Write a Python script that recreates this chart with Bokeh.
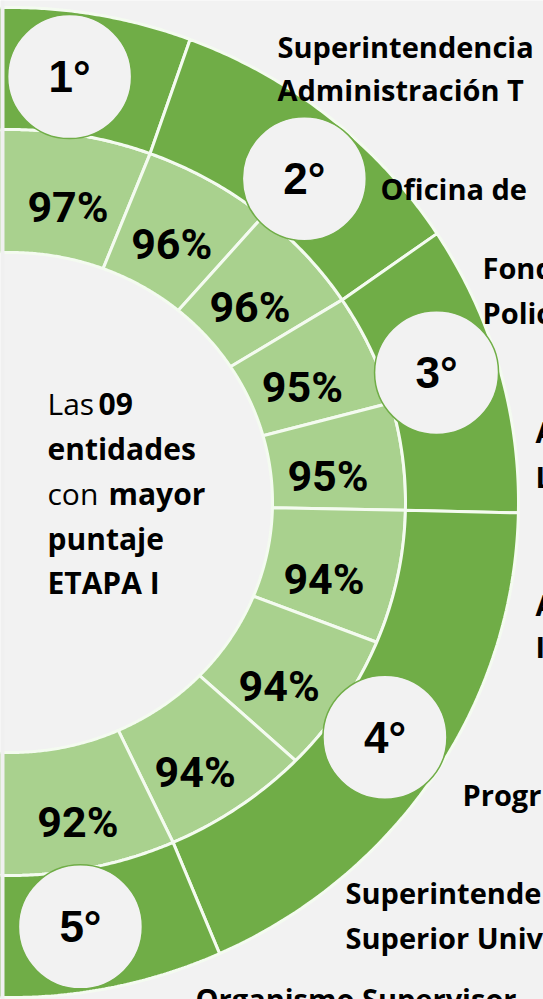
import numpy as np
from bokeh.plotting import figure
from bokeh.models import Range1d
from bokeh.core.properties import value
from bokeh.embed import file_html
from bokeh.resources import INLINE

# ---------------- data ----------------
scores = [97, 96, 96, 95, 95, 94, 94, 94, 92]
rank_marks = ["1°", "2°", "3°", "4°", "5°"]

# centre caption: (text, bold?)
caption = [
    [("Las ", False), ("09", True)],
    [("entidades", True)],
    [("con ", False), ("mayor", True)],
    [("puntaje", True)],
    [("ETAPA I", True)],
]

# entity names as visible in the picture (cut by the right edge)
name_text = ["Superintendencia", "Administración T", "Oficina de", "Fond", "Polic",
             "A", "L", "A", "I", "Progr", "Superintende", "Superior Univ",
             "Organismo Supervisor"]

# ---------------- layout (pixel space, y downwards) ----------------
W, H = 543, 999
CX, CY = 10, 502
R_IN = (262, 250)
R_MID = (395, 373)
R_OUT = (508, 495)
EDGES = [90, 69.3, 50.2, 32.9, 15.5, -1.2, -22.0, -43.8, -65.7, -90]
BADGE_DEG = [82.4, 48.9, 17.6, -33.1, -81.0]
LABEL_R, LABEL_DY = (320, 314), 13
name_x = [277, 277, 380, 482, 482, 535, 535, 535, 535, 462, 345, 345, 195]
name_base = [57, 100, 199, 278, 323, 442, 487, 615, 657, 805, 903, 948, 1009]
cap_x0, cap_x_bold2 = 47, {0: 98, 2: 108}
cap_base = [415, 460, 505, 550, 594]

# the svg text is placed around its em-box centre: shift = (ascent - descent) / 2
K_OPEN_SANS = 0.388

GREEN = "#70AD47"
LIGHT = "#A9D18E"
BG = "#F2F2F2"
GAP = "#F4FBF0"


def ext(a):
    return 94 if a >= 90 else (-94 if a <= -90 else a)


def ring_patch(a0, a1, r0, r1, n=80):
    t = np.radians(np.linspace(ext(a0), ext(a1), n))
    xo = CX + r1[0] * np.cos(t)
    yo = CY - r1[1] * np.sin(t)
    xi = CX + r0[0] * np.cos(t[::-1])
    yi = CY - r0[1] * np.sin(t[::-1])
    return list(np.concatenate([xo, xi])), list(np.concatenate([yo, yi]))


def pt(a, rx, ry):
    t = np.radians(a)
    return CX + rx * np.cos(t), CY - ry * np.sin(t)


p = figure(width=W, height=H, x_range=Range1d(0, W), y_range=Range1d(H, 0),
           output_backend="svg", toolbar_location=None, min_border=0,
           x_axis_location=None, y_axis_location=None)
p.grid.visible = False
p.outline_line_color = None
p.background_fill_color = BG
p.border_fill_color = BG

# inner ring: one wedge per entity
ixs, iys = [], []
for i in range(len(scores)):
    xs, ys = ring_patch(EDGES[i], EDGES[i + 1], R_IN, R_MID)
    ixs.append(xs)
    iys.append(ys)
p.patches(ixs, iys, fill_color=LIGHT, line_color=GAP, line_width=3)

# outer ring: one wedge per rank (entities sharing the same score)
levels = sorted(set(scores), reverse=True)
rank_idx = [levels.index(s) for s in scores]
oxs, oys, bx, by = [], [], [], []
for r in range(len(levels)):
    members = [i for i, k in enumerate(rank_idx) if k == r]
    a0, a1 = EDGES[members[0]], EDGES[members[-1] + 1]
    xs, ys = ring_patch(a0, a1, R_MID, R_OUT)
    oxs.append(xs)
    oys.append(ys)
    mx, my = pt(BADGE_DEG[r], 0.99 * (R_MID[0] + R_OUT[0]) / 2,
                0.99 * (R_MID[1] + R_OUT[1]) / 2)
    bx.append(mx)
    by.append(my)
p.patches(oxs, oys, fill_color=GREEN, line_color=GAP, line_width=3)

# thin left border of the slide
p.quad(left=[0], right=[4], top=[0], bottom=[H], fill_color="#F0F0F0", line_color=None)

# rank badges
p.circle(bx, by, radius=62, fill_color=BG, line_color=GREEN, line_width=1.5)
p.text(bx, by, text=rank_marks[:len(levels)],
       text_align="center", text_baseline="alphabetic",
       text_font=value("Liberation Sans"), text_font_style="bold",
       text_font_size="44px", text_color="black")

# percentage labels
lx, ly = [], []
for i in range(len(scores)):
    a = (EDGES[i] + EDGES[i + 1]) / 2
    x, y = pt(a, LABEL_R[0], LABEL_R[1])
    lx.append(x)
    ly.append(y + LABEL_DY)
p.text(lx, ly, text=[f"{s}%" for s in scores], text_align="center",
       text_baseline="alphabetic", text_font=value("Roboto"),
       text_font_style="bold", text_font_size="43px", text_color="black")

# centre caption
for li, parts in enumerate(caption):
    for pi, (txt, bold) in enumerate(parts):
        x = cap_x0 if pi == 0 else cap_x_bold2[li]
        p.text([x], [cap_base[li] - K_OPEN_SANS * 30], text=[txt], text_align="left",
               text_baseline="alphabetic", text_font=value("Open Sans"),
               text_font_style="bold" if bold else "normal",
               text_font_size="30px", text_color="black")

# entity names
p.text(name_x, [b - K_OPEN_SANS * 29 for b in name_base], text=name_text,
       text_align="left", text_baseline="alphabetic",
       text_font=value("Open Sans"), text_font_style="bold",
       text_font_size="29px", text_color="black")

open("out.html", "w").write(file_html(p, INLINE))
